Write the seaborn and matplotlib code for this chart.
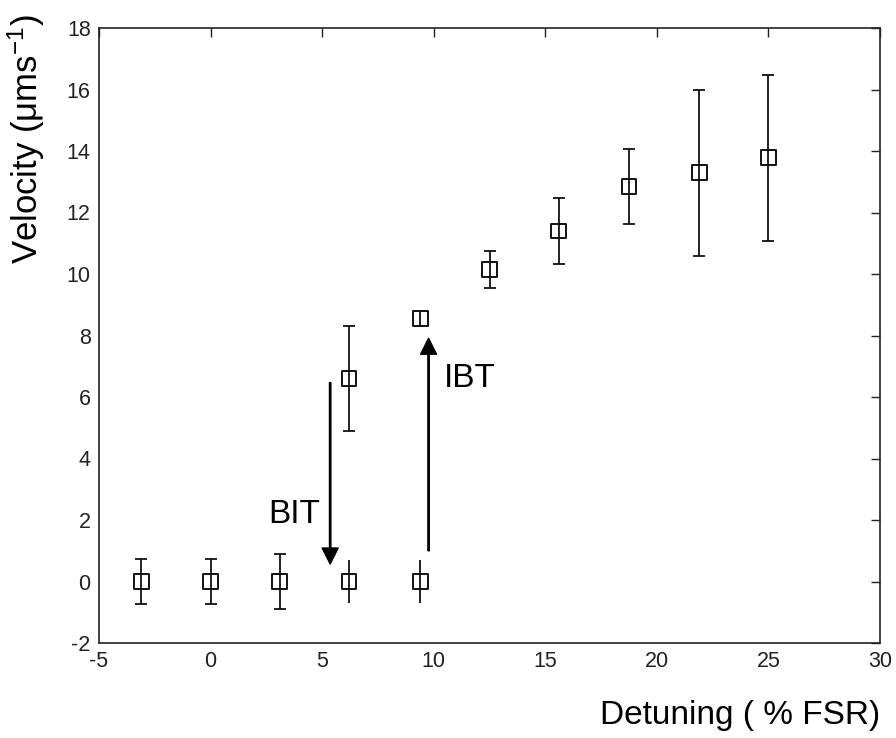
import matplotlib
matplotlib.use("Agg")
import matplotlib.pyplot as plt
import seaborn as sns
import numpy as np
import pandas as pd

# Data
detuning = [-3.1, 0.0, 3.1, 6.2, 9.4, 6.2, 9.4, 12.5, 15.6, 18.75, 21.9, 25.0]
velocity = [0.0, 0.0, 0.0, 0.0, 0.0, 6.6, 8.55, 10.15, 11.4, 12.85, 13.3, 13.78]
error = [0.73, 0.73, 0.9, 0.7, 0.7, 1.7, 0.25, 0.6, 1.08, 1.22, 2.7, 2.7]
has_cap = [True, True, True, False, False, True, False, True, True, True, True, True]

x_ticks = [-5, 0, 5, 10, 15, 20, 25, 30]
y_ticks = [-2, 0, 2, 4, 6, 8, 10, 12, 14, 16, 18]

# Annotation data (transition arrows)
bit_arrow = {"label": "BIT", "x": 5.36, "y_from": 6.47, "y_to": 0.57, "text_xy": (2.58, 1.9)}
ibt_arrow = {"label": "IBT", "x": 9.77, "y_from": 1.0, "y_to": 7.91, "text_xy": (10.47, 6.33)}

sns.set_theme(style="white")
plt.rcParams["font.family"] = ["Liberation Sans", "DejaVu Sans"]
plt.rcParams["mathtext.default"] = "regular"
plt.rcParams["axes.unicode_minus"] = False

df = pd.DataFrame({"Detuning": detuning, "Velocity": velocity, "err": error, "cap": has_cap})

fig = plt.figure(figsize=(8.96, 7.38), dpi=100)
ax = fig.add_axes([99 / 896, 95 / 738, 781 / 896, 615 / 738])

ink = "#111111"
for cap, sub in df.groupby("cap"):
    ax.errorbar(sub["Detuning"], sub["Velocity"], yerr=sub["err"], fmt="none",
                ecolor=ink, elinewidth=1.3, capsize=4.3 if cap else 0,
                capthick=1.3, zorder=2)

sns.scatterplot(data=df, x="Detuning", y="Velocity", marker="s", s=110,
                facecolors="none", edgecolor=ink, linewidth=1.4, ax=ax, zorder=3)

for arr in (bit_arrow, ibt_arrow):
    ax.annotate("", xy=(arr["x"], arr["y_to"]), xytext=(arr["x"], arr["y_from"]),
                arrowprops=dict(width=1.0, headwidth=11.5, headlength=11.5,
                                color="black", shrink=0))
    ax.text(arr["text_xy"][0], arr["text_xy"][1], arr["label"], fontsize=24,
            ha="left", va="baseline", color="black")

ax.set_xlim(-5, 30)
ax.set_ylim(-2, 18)
ax.set_xticks(x_ticks)
ax.set_yticks(y_ticks)
ax.tick_params(direction="in", length=6.5, width=1.0, top=True, right=True,
               labelsize=15.5, labelcolor="#222222", color="#222222", pad=6)
for s in ax.spines.values():
    s.set_visible(True)
    s.set_color("#222222")
    s.set_linewidth(1.2)

ax.set_xlabel("Detuning ( % FSR)", fontsize=24, loc="right", labelpad=20, color="black")
ax.set_ylabel("Velocity (μms$^{-1}$)", fontsize=25, color="black")
ax.yaxis.set_label_coords(-0.066, 0.82)

fig.savefig("out.png", dpi=100, facecolor="white")
